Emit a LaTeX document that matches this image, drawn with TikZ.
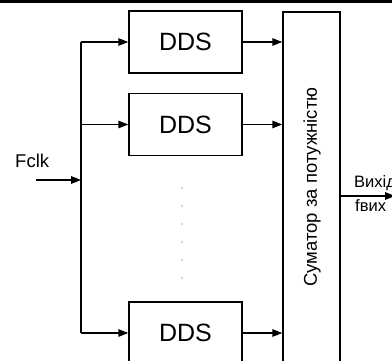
\documentclass[tikz,border=0pt]{standalone}
\usepackage{fontspec}
\setmainfont{Liberation Sans}
\usetikzlibrary{positioning,arrows.meta}

\begin{document}
\begin{tikzpicture}[x=1pt,y=-1pt,
  box/.style={draw,line width=1.4pt,inner sep=0pt,minimum width=113pt,minimum height=62pt,
              font=\fontsize{25}{30}\selectfont},
  sumbox/.style={draw,line width=1.4pt,inner sep=0pt,minimum width=57pt,minimum height=350pt},
  lbl/.style={inner sep=0pt,font=\fontsize{18.5}{22}\selectfont},
  arr/.style={-{Triangle[length=10pt,width=7.5pt]},line width=1.4pt}]
\useasboundingbox (0,0) rectangle (392,361);
\clip (0,0) rectangle (392,361);
\draw[line width=2.6pt] (0,1.3) -- (392,1.3);
% DDS блоки
\node[box] (dds1) at (185.5,42)  {DDS};
\node[box] (dds2) at (185.5,124.5) {DDS};
\node[box] (dds3) at (185.5,333) {DDS};
% суматор
\node[sumbox] (sum) at (311.5,187) {};
\node[lbl,rotate=90] (sumtxt) at (312,187) {Суматор за потужністю};
% тактовий вхід
\coordinate (bus) at (81,180);
\coordinate (in)  at (36,180);
\node[lbl,anchor=base west] (fclk) at (15,168) {Fclk};
\draw[line width=1.4pt] (bus |- dds1) -- (bus |- dds3);
\draw[arr] (in) -- (bus);
\draw[arr] (bus |- dds1) -- (dds1);
\draw[arr] (bus |- dds2) -- (dds2);
\draw[arr] (bus |- dds3) -- (dds3);
\draw[arr] (dds1) -- (dds1 -| sum.west);
\draw[arr] (dds2) -- (dds2 -| sum.west);
\draw[arr] (dds3) -- (dds3 -| sum.west);
% вихід
\coordinate (out) at (395,196);
\draw[arr] (sum.east |- out) -- (out);
\node[lbl,anchor=base west,font=\fontsize{16.5}{20}\selectfont] (vyh) at (354,188) {Вихід};
\node[lbl,anchor=base west,font=\fontsize{16.5}{20}\selectfont] (fvyh) at (355,212) {fвих};
% крапки
\foreach \y in {188,206,...,278}
  \fill[black!70] (182,\y) circle (0.6pt);
\end{tikzpicture}
\end{document}
